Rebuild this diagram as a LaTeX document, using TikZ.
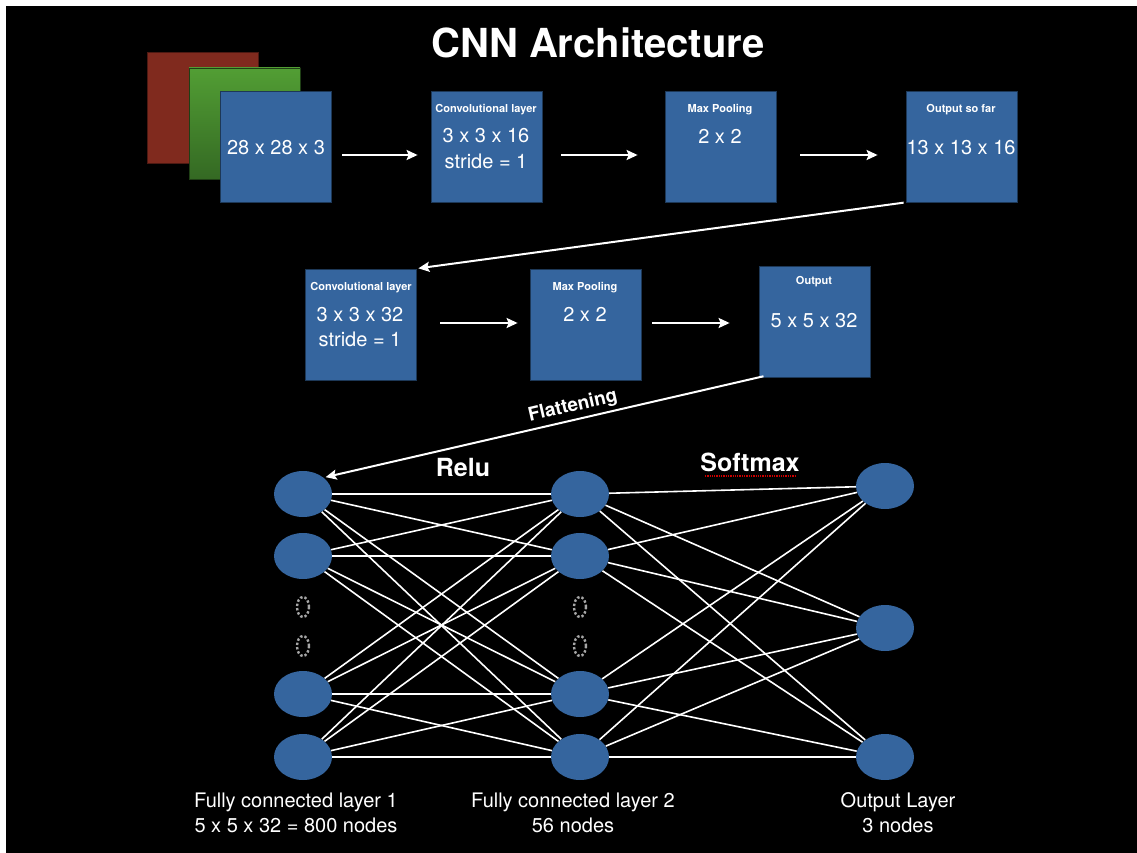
\documentclass[tikz,border=0pt]{standalone}
\usepackage{fontspec}
\setmainfont{TeX Gyre Heros}
\usetikzlibrary{arrows.meta,shapes.geometric}

\definecolor{layerblue}{RGB}{53,101,158}
\definecolor{mapred}{RGB}{128,42,30}
\definecolor{mapgreentop}{RGB}{82,158,52}
\definecolor{mapgreenbot}{RGB}{52,105,35}

\tikzset{
  layerbox/.style={fill=layerblue, draw=layerblue!55!black, line width=0.8pt,
    minimum width=111pt, minimum height=111pt, inner sep=0pt},
  neuron/.style={ellipse, fill=layerblue, minimum width=58pt, minimum height=46pt, inner sep=0pt},
  flow/.style={draw=white, line width=2pt, -{Stealth[length=11pt,width=10pt,inset=2pt]}},
  wire/.style={draw=white, line width=1.6pt},
  head/.style={text=white, font=\bfseries\fontsize{11}{13}\selectfont},
  dims/.style={text=white, font=\fontsize{20}{24}\selectfont},
  caption/.style={text=white, align=center, font=\fontsize{20}{25}\selectfont},
  dotring/.style={draw=gray!70, dotted, line width=2.4pt},
}

\begin{document}
\begin{tikzpicture}[x=1pt,y=-1pt]

  % Page and background
  \useasboundingbox (0,0) rectangle (1137,853);
  \fill[white] (0,0) rectangle (1137,853);
  \fill[black] (6,6) rectangle (1137,853);

  % Title
  \node[text=white, font=\bfseries\fontsize{40}{48}\selectfont] (title) at (598,43) {CNN Architecture};

  % Input image, three colour maps
  \node[layerbox, fill=mapred, draw=mapred!60!black] (red) at (202.5,107.5) {};
  \node[layerbox, top color=mapgreentop, bottom color=mapgreenbot, draw=mapgreenbot!60!black] (green) at (244.5,123.5) {};
  \node[layerbox] (input) at (275.5,146.5) {};
  \node[dims] at (276,148) {28 x 28 x 3};

  % First row of layers
  \node[layerbox] (conv1) at (486.5,146.5) {};
  \node[head] at (486,110) {Convolutional layer};
  \node[dims] at (486,136) {3 x 3 x 16};
  \node[dims] at (486,161) {stride = 1};

  \node[layerbox] (pool1) at (720.5,146.5) {};
  \node[head] at (720,110) {Max Pooling};
  \node[dims] at (720,136) {2 x 2};

  \node[layerbox] (out1) at (961.5,146.5) {};
  \node[head] at (961,110) {Output so far};
  \node[dims] at (961,148) {13 x 13 x 16};

  \draw[flow, shorten <=11pt, shorten >=13pt] ([yshift=-8.5pt]input.east) -- ([yshift=-8.5pt]conv1.west);
  \draw[flow, shorten <=19pt, shorten >=27pt] ([yshift=-8.5pt]conv1.east) -- ([yshift=-8.5pt]pool1.west);
  \draw[flow, shorten <=24pt, shorten >=28pt] ([yshift=-8.5pt]pool1.east) -- ([yshift=-8.5pt]out1.west);

  % Second row of layers
  \node[layerbox] (conv2) at (360.5,324.5) {};
  \node[head] at (361,288) {Convolutional layer};
  \node[dims] at (360,315) {3 x 3 x 32};
  \node[dims] at (360,339) {stride = 1};

  \node[layerbox] (pool2) at (585.5,324.5) {};
  \node[head] at (585,288) {Max Pooling};
  \node[dims] at (585,314) {2 x 2};

  \node[layerbox] (out2) at (814.5,321.5) {};
  \node[head] at (814,282) {Output};
  \node[dims] at (814,321) {5 x 5 x 32};

  \draw[flow, shorten <=2pt, shorten >=2pt] (out1.south west) -- (conv2.north east);
  \draw[flow, shorten <=24pt, shorten >=12pt] ([yshift=1.5pt]conv2.east) -- ([yshift=1.5pt]pool2.west);
  \draw[flow, shorten <=11pt, shorten >=29pt] ([yshift=1.5pt]pool2.east) -- ([yshift=-1.5pt]out2.west);

  % Fully connected part
  \node[neuron] (n11) at (303,494) {};
  \node[neuron] (n12) at (303,556) {};
  \node[neuron] (n13) at (303,694) {};
  \node[neuron] (n14) at (303,757) {};

  \node[neuron] (n21) at (580,494) {};
  \node[neuron] (n22) at (580,556) {};
  \node[neuron] (n23) at (580,694) {};
  \node[neuron] (n24) at (580,757) {};

  \node[neuron] (n31) at (885,486) {};
  \node[neuron] (n32) at (885,628) {};
  \node[neuron] (n33) at (885,757) {};

  \foreach \a in {n11,n12,n13,n14}
    \foreach \b in {n21,n22,n23,n24}
      \draw[wire] (\a) -- (\b);
  \foreach \a in {n21,n22,n23,n24}
    \foreach \b in {n31,n32,n33}
      \draw[wire] (\a) -- (\b);

  % Skipped nodes
  \draw[dotring] (303,607) ellipse (6pt and 10pt);
  \draw[dotring] (303,646) ellipse (6pt and 10pt);
  \draw[dotring] (580,607) ellipse (6pt and 10pt);
  \draw[dotring] (580,646) ellipse (6pt and 10pt);

  % Flattening arrow
  \draw[flow, shorten <=-5pt, shorten >=2pt] (out2.south west) -- (n11.north east)
    node[pos=0.42, above, sloped, text=white, font=\bfseries\fontsize{19}{22}\selectfont, yshift=0pt] {Flattening};

  % Activations
  \node[text=white, font=\bfseries\fontsize{25}{30}\selectfont] (relu) at (463,467) {Relu};
  \node[text=white, font=\bfseries\fontsize{25}{30}\selectfont] (softmax) at (750,462) {Softmax};
  \draw[red!80!black, densely dotted, line width=1.3pt] ([yshift=-1pt]softmax.south west) ++(8pt,0) -- ([yshift=-1pt,xshift=-8pt]softmax.south east);

  % Layer captions
  \node[caption] (cap1) at (296,813) {Fully connected layer 1\\5 x 5 x 32 = 800 nodes};
  \node[caption] (cap2) at (573,813) {Fully connected layer 2\\56 nodes};
  \node[caption] (cap3) at (898,813) {Output Layer\\3 nodes};

\end{tikzpicture}
\end{document}
